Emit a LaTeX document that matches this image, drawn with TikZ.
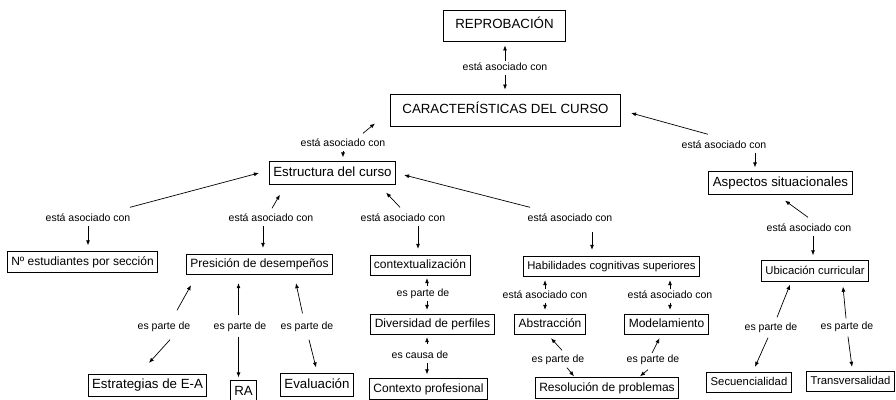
\documentclass[tikz,border=0pt]{standalone}
\usepackage{fontspec}
\setmainfont{Liberation Sans}
\usetikzlibrary{arrows.meta}

\tikzset{
  concepto/.style={draw, line width=0.9pt, font=\fontsize{12}{14}\selectfont, inner xsep=4pt, inner ysep=4.5pt, text height=9pt, text depth=2.5pt},
  conceptog/.style={concepto, font=\fontsize{13.3}{15}\selectfont, text height=9.5pt, text depth=2.8pt, inner ysep=5pt},
  conceptop/.style={concepto, font=\fontsize{11.3}{13}\selectfont},
  enlace/.style={font=\fontsize{10.5}{12}\selectfont, inner sep=1pt, text height=7.5pt, text depth=2pt},
  flecha/.style={-{Latex[length=5pt,width=4pt]}, line width=0.7pt},
  flechav/.style={flecha, shorten <=1pt, shorten >=4pt},
}

\begin{document}
\begin{tikzpicture}[x=1pt,y=-1pt]
\path[fill=white, use as bounding box] (0,0) rectangle (896,399);

% conceptos
\node[conceptog, inner xsep=12pt, minimum height=31pt] (reprob) at (504.5,25.5) {REPROBACIÓN};
\node[conceptog, inner xsep=12pt, minimum height=32pt] (caract) at (505.5,110) {CARACTERÍSTICAS DEL CURSO};
\node[conceptog] (estruct) at (332.5,173) {Estructura del curso};
\node[conceptog] (aspect) at (780.5,183) {Aspectos situacionales};
\node[concepto] (nest) at (82.5,262) {Nº estudiantes por sección};
\node[concepto] (presion) at (259.5,264.5) {Presición de desempeños};
\node[concepto] (context) at (420,265.5) {contextualización};
\node[conceptop] (habil) at (611.5,266.5) {Habilidades cognitivas superiores};
\node[conceptop] (ubic) at (815,271) {Ubicación curricular};
\node[concepto] (divers) at (432.5,324.5) {Diversidad de perfiles};
\node[concepto] (abstr) at (550,324.5) {Abstracción};
\node[concepto] (model) at (666.5,324.5) {Modelamiento};
\node[conceptog] (estrat) at (147.5,385.5) {Estrategias de E-A};
\node[conceptog] (ra) at (243.5,392) {RA};
\node[conceptog] (evalua) at (317,385) {Evaluación};
\node[concepto] (contexp) at (428.5,389) {Contexto profesional};
\node[concepto] (resol) at (607,388) {Resolución de problemas};
\node[conceptop] (secuen) at (749,382.5) {Secuencialidad};
\node[conceptop] (transv) at (850.5,381.5) {Transversalidad};

% enlaces
\node[enlace] (l1) at (505,68) {está asociado con};
\node[enlace] (l2) at (343,144) {está asociado con};
\node[enlace] (l3) at (724,146) {está asociado con};
\node[enlace] (l4) at (88,219) {está asociado con};
\node[enlace] (l5) at (271,219) {está asociado con};
\node[enlace] (l6) at (403,219) {está asociado con};
\node[enlace] (l7) at (570,219) {está asociado con};
\node[enlace] (l8) at (809,229) {está asociado con};
\node[enlace] (l9) at (164,327) {es parte de};
\node[enlace] (l10) at (240,327) {es parte de};
\node[enlace] (l11) at (307,327) {es parte de};
\node[enlace] (l12) at (423,294) {es parte de};
\node[enlace] (l13) at (420,356) {es causa de};
\node[enlace] (l14) at (545,296) {está asociado con};
\node[enlace] (l15) at (670,296) {está asociado con};
\node[enlace] (l16) at (558,360) {es parte de};
\node[enlace] (l17) at (653,360) {es parte de};
\node[enlace] (l18) at (771,328) {es parte de};
\node[enlace] (l19) at (847,327) {es parte de};

% flechas
\draw[flechav] (l1.north) -- (l1.north |- reprob.south);
\draw[flechav] (l1.south) -- (l1.south |- caract.north);
\draw[flecha] ([xshift=20pt,yshift=4.75pt]l2.north) -- ([xshift=-15pt,yshift=3pt]caract.south west);
\draw[flechav] (l2.south) -- (l2.south |- estruct.north);
\draw[flecha] ([xshift=-16pt,yshift=5.75pt]l3.north) -- ([xshift=10pt,yshift=-3pt]caract.east);
\draw[flechav] ([xshift=31pt]l3.south) -- ([xshift=-25.5pt]aspect.north);
\draw[flecha] ([xshift=42pt,yshift=5.75pt]l4.north) -- ([xshift=-10pt]estruct.west);
\draw[flechav, shorten >=6pt] (l4.south) -- (l4.south |- nest.north);
\draw[flecha] ([xshift=1pt,yshift=4.75pt]l5.north) -- ([xshift=11pt,yshift=-10pt]estruct.south west);
\draw[flechav, shorten >=6pt] ([xshift=-8pt]l5.south) -- ([xshift=3.5pt]presion.north);
\draw[flecha] ([xshift=-3pt,yshift=5.75pt]l6.north) -- ([xshift=-10pt,yshift=-8pt]estruct.south east);
\draw[flechav, shorten >=6pt] ([xshift=15pt]l6.south) -- ([xshift=-2pt]context.north);
\draw[flecha] ([xshift=-40pt,yshift=5.75pt]l7.north) -- ([xshift=8pt,yshift=-2pt]estruct.east);
\draw[flechav, shorten <=7pt, shorten >=6pt] ([xshift=22pt]l7.south) -- ([xshift=-19.5pt]habil.north);
\draw[flecha] ([xshift=-1pt,yshift=5.75pt]l8.north) -- ([xshift=4.5pt,yshift=-6pt]aspect.south);
\draw[flechav, shorten >=5pt] ([xshift=4pt]l8.south) -- ([xshift=-2pt]ubic.north);
\draw[flecha] ([xshift=13pt,yshift=10.75pt]l9.north) -- ([xshift=5pt,yshift=-10pt]presion.south west);
\draw[flecha] ([xshift=6pt,yshift=-6.75pt]l9.south) -- ([xshift=1.5pt,yshift=11pt]estrat.north);
\draw[flecha] ([xshift=-1.5pt,yshift=5.75pt]l10.north) -- ([xshift=-21pt,yshift=-8pt]presion.south);
\draw[flecha] ([xshift=-1.5pt,yshift=-3.75pt]l10.south) -- ([xshift=-5pt,yshift=3pt]ra.north);
\draw[flecha] ([xshift=-4.5pt,yshift=7.75pt]l11.north) -- ([xshift=-37pt,yshift=-8pt]presion.south east);
\draw[flecha] ([xshift=2pt,yshift=-6.75pt]l11.south) -- ([xshift=-1pt,yshift=6pt]evalua.north);
\draw[flechav, shorten <=2pt, shorten >=2pt] ([xshift=4pt]l12.north) -- ([xshift=7pt]context.south);
\draw[flechav] ([xshift=4pt]l12.south) -- ([xshift=-5.5pt]divers.north);
\draw[flechav, shorten <=6pt, shorten >=2pt] ([xshift=7pt]l13.north) -- ([xshift=-5.5pt]divers.south);
\draw[flechav] ([xshift=7pt]l13.south) -- ([xshift=-1.5pt]contexp.north);
\draw[flechav, shorten >=3pt] (l14.north) -- (l14.north |- habil.south);
\draw[flechav] (l14.south) -- (l14.south |- abstr.north);
\draw[flechav, shorten >=3pt] (l15.north) -- (l15.north |- habil.south);
\draw[flechav] (l15.south) -- (l15.south |- model.north);
\draw[flecha] ([xshift=4pt,yshift=3.75pt]l16.north) -- ([xshift=1pt,yshift=-3pt]abstr.south);
\draw[flecha] ([xshift=9pt,yshift=-1.75pt]l16.south) -- ([xshift=-33pt,yshift=1pt]resol.north);
\draw[flecha] ([xshift=-1pt,yshift=1pt]l17.north) -- ([xshift=-7pt,yshift=-3pt]model.south);
\draw[flecha] ([xshift=-5pt,yshift=-3.75pt]l17.south) -- ([xshift=33pt,yshift=1pt]resol.north);
\draw[flecha] ([xshift=6pt,yshift=4.75pt]l18.north) -- ([xshift=-25pt,yshift=-3pt]ubic.south);
\draw[flecha] ([xshift=-3pt,yshift=-3.75pt]l18.south) -- ([xshift=6pt,yshift=5pt]secuen.north);
\draw[flecha] ([xshift=-1pt,yshift=2.75pt]l19.north) -- ([xshift=28pt,yshift=-5pt]ubic.south);
\draw[flecha] ([xshift=1pt,yshift=-3.75pt]l19.south) -- ([xshift=1.5pt,yshift=4pt]transv.north);
\end{tikzpicture}
\end{document}
